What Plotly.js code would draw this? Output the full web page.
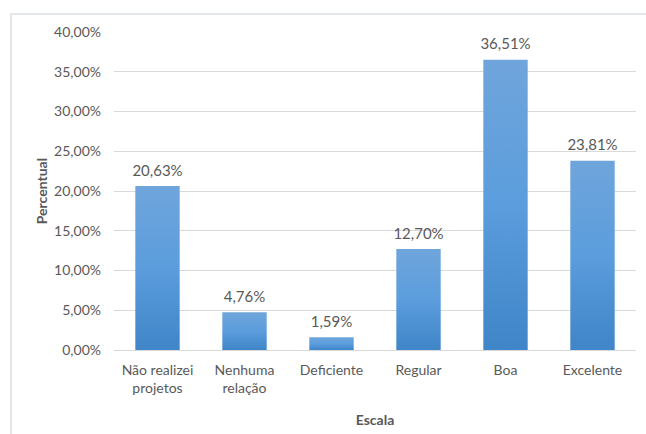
<!DOCTYPE html>
<html>
<head>
<meta charset="utf-8">
<script src="https://cdn.plot.ly/plotly-3.0.1.min.js"></script>
<style>
  html, body { margin: 0; padding: 0; background: #fff; }
  #wrap { position: relative; width: 646px; height: 434px; }
  #chart { position: absolute; left: 0; top: 0; width: 646px; height: 434px; }
  #frame { position: absolute; left: 10px; top: 13px; width: 640px; height: 425px;
           border-left: 2px solid #e3e6ea; border-top: 2px solid #e3e6ea; pointer-events: none; }
</style>
</head>
<body>
<div id="wrap">
  <div id="chart"></div>
  <div id="frame"></div>
</div>
<script>
const categories = ["Não realizei<br>projetos", "Nenhuma<br>relação", "Deficiente", "Regular", "Boa", "Excelente"];
const values = [20.63, 4.76, 1.59, 12.70, 36.51, 23.81];
const yTitle = "Percentual";
const xTitle = "Escala";

const fontFam = "Lato, 'Open Sans', sans-serif";
const txtColor = "#595959";

const bars = {
  type: "bar",
  x: categories,
  y: values,
  marker: { color: "#5b9bd5", line: { width: 0 } },
  hoverinfo: "none"
};

const labels = {
  type: "scatter",
  mode: "markers+text",
  x: categories,
  y: values,
  marker: { size: 9, opacity: 0 },
  texttemplate: "%{y:.2f}%",
  textposition: "top center",
  cliponaxis: false,
  textfont: { family: fontFam, size: 15, color: txtColor },
  hoverinfo: "none"
};

const layout = {
  width: 646, height: 434,
  margin: { l: 114, r: 10, t: 32, b: 84 },
  paper_bgcolor: "rgba(0,0,0,0)",
  plot_bgcolor: "#fff",
  separators: ",.",
  bargap: 0.49,
  showlegend: false,
  font: { family: fontFam, size: 14, color: txtColor },
  xaxis: {
    type: "category",
    showgrid: false,
    showline: true, linecolor: "#d9d9d9", linewidth: 1,
    ticks: "", ticklabelstandoff: 7,
    tickfont: { family: fontFam, size: 14, color: txtColor },
    title: { text: "<b>" + xTitle + "</b>", font: { family: fontFam, size: 14, color: txtColor }, standoff: 20 }
  },
  yaxis: {
    range: [0, 40], dtick: 5, tick0: 0,
    ticksuffix: "%", tickformat: ".2f",
    showgrid: true, gridcolor: "#d9d9d9", gridwidth: 1,
    zeroline: false, showline: false,
    ticks: "", ticklabelstandoff: 12,
    tickfont: { family: fontFam, size: 14, color: txtColor },
    title: { text: "<b>" + yTitle + "</b>", font: { family: fontFam, size: 14, color: txtColor }, standoff: 3 }
  }
};

Plotly.newPlot("chart", [bars, labels], layout, { staticPlot: true, displayModeBar: false }).then(function (gd) {
  // Excel-like vertical gradient on the bars
  const svg = gd.querySelector("svg.main-svg");
  const ns = "http://www.w3.org/2000/svg";
  let defs = svg.querySelector("defs");
  if (!defs) { defs = document.createElementNS(ns, "defs"); svg.insertBefore(defs, svg.firstChild); }
  const grad = document.createElementNS(ns, "linearGradient");
  grad.setAttribute("id", "barGrad");
  grad.setAttribute("x1", "0"); grad.setAttribute("y1", "0");
  grad.setAttribute("x2", "0"); grad.setAttribute("y2", "1");
  [["0", "#6fa5db"], ["0.5", "#5b9ddd"], ["1", "#3f85c7"]].forEach(function (s) {
    const st = document.createElementNS(ns, "stop");
    st.setAttribute("offset", s[0]); st.setAttribute("stop-color", s[1]);
    grad.appendChild(st);
  });
  defs.appendChild(grad);
  gd.querySelectorAll(".bars .point path").forEach(function (p) {
    p.style.fill = "url(#barGrad)";
  });
});
</script>
</body>
</html>
